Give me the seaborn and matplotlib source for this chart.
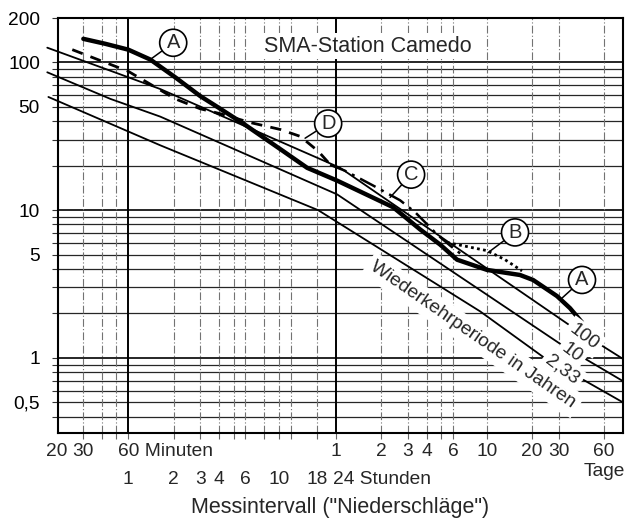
import numpy as np
import pandas as pd
import matplotlib
matplotlib.use("Agg")
import matplotlib.pyplot as plt
import seaborn as sns

# ---------------- data (x: minutes, y: intensity) ----------------
# Curve A (thick solid)
a_x = [30.2, 42.2, 60, 84, 123, 180, 233.7, 347.8, 640.9, 924.6, 1462, 3441,
       5196, 7056, 9150, 14468, 23951, 29216, 42150, 51420, 61765]
a_y = [144.5, 133.8, 122.1, 104.7, 79.4, 59.3, 50.1, 38.6, 25.1, 19.35, 15.85,
       10.47, 7.41, 5.85, 4.62, 3.94, 3.64, 3.37, 2.62, 2.17, 1.74]
# Curve B (dotted)
b_x = [7852, 14468, 19050, 24697]
b_y = [6.04, 5.32, 4.62, 3.88]
# Curve C (dash-dot)
c_x = [1314, 1652, 2078, 2535, 3829, 4816, 6739, 8221, 10027]
c_y = [20.26, 18.48, 16.34, 14.68, 11.66, 9.69, 6.85, 5.76, 4.92]
# Curve D (dashed)
d_x = [25.5, 39.1, 60, 90.7, 123, 180, 244.6, 387, 612, 831, 1094, 1376]
d_y = [122.1, 103.1, 87.1, 68.1, 56.7, 48.6, 45.0, 39.2, 35.2, 31.6, 25.1, 19.35]
# Return-period lines (Wiederkehrperiode in Jahren)
r100_x = [17.4, 60, 97.8, 1531, 13610, 51420, 115580]
r100_y = [125.9, 79.4, 66.1, 19.35, 4.20, 1.656, 0.984]
r10_x = [17.4, 45.6, 97.8, 1462, 13000, 46206, 115580]
r10_y = [85.8, 56.7, 43.0, 12.79, 2.876, 1.208, 0.696]
r233_x = [17.7, 97.8, 1094, 13000, 34046, 115580]
r233_y = [58.4, 27.5, 10.0, 2.066, 1.016, 0.4996]

y_grid = [0.4, 0.5, 0.6, 0.7, 0.8, 0.9, 1, 2, 3, 4, 5, 6, 7, 8, 9,
          10, 20, 30, 40, 50, 60, 70, 80, 90, 100]
y_labels = {200: "200", 100: "100", 50: "50", 10: "10", 5: "5", 1: "1", 0.5: "0,5"}
x_major = [60, 1440]
x_minor = [30, 40, 50, 120, 180, 240, 300, 360, 480, 600, 720, 1080,
           2880, 4320, 5760, 7200, 8640, 14400, 28800, 43200, 86400]
row1 = [("20", 20), ("30", 30), ("1", 1440), ("2", 2880), ("3", 4320),
        ("4", 5760), ("6", 8640), ("10", 14400), ("20", 28800), ("30", 43200),
        ("60", 86400)]
row2 = [("1", 60), ("2", 120), ("3", 180), ("4", 240), ("6", 360),
        ("10", 600), ("18", 1080)]

# ---------------- style ----------------
sns.set_style("white")
plt.rcParams["font.family"] = ["Liberation Sans", "DejaVu Sans"]

W, H = 631, 518
fig = plt.figure(figsize=(W / 100, H / 100), dpi=100)
L, R, T, B = 58, 623, 18, 433
ax = fig.add_axes([L / W, 1 - B / H, (R - L) / W, (B - T) / H])
ax.set_xscale("log")
ax.set_yscale("log")
ax.set_xlim(20.5, 115600)
ax.set_ylim(0.31, 200)

# grid lines
for v in y_grid:
    lw = 1.4 if v in (1, 10, 100) else 0.9
    ax.axhline(v, color="0.15", lw=lw, zorder=1)
for v in x_minor:
    ax.axvline(v, color="0.45", lw=0.8, ls=(0, (7, 2, 1, 2)), zorder=1)
for v in x_major:
    ax.axvline(v, color="black", lw=1.4, zorder=1)

# return-period lines
for xs, ys in [(r100_x, r100_y), (r10_x, r10_y), (r233_x, r233_y)]:
    sns.lineplot(x=xs, y=ys, ax=ax, color="black", lw=1.3, sort=False,
                 estimator=None, clip_on=False, zorder=3)

# measured curves
sns.lineplot(x=d_x, y=d_y, ax=ax, color="black", lw=2.0, sort=False,
             estimator=None, ls=(0, (4, 3)), zorder=4)
sns.lineplot(x=c_x, y=c_y, ax=ax, color="black", lw=1.8, sort=False,
             estimator=None, ls=(0, (7, 2.5, 1.2, 2.5)), zorder=4)
sns.lineplot(x=b_x, y=b_y, ax=ax, color="black", lw=2.0, sort=False,
             estimator=None, ls=(0, (1, 1.2)), zorder=4)
sns.lineplot(x=a_x, y=a_y, ax=ax, color="black", lw=3.2, sort=False,
             estimator=None, zorder=5)

# ticks
ax.set_yticks(y_grid + [200])
ax.set_yticklabels([y_labels.get(v, "") for v in y_grid + [200]], fontsize=13.8)
ax.set_xticks(x_minor + x_major)
ax.set_xticklabels([])
ax.minorticks_off()
ax.tick_params(axis="y", direction="out", length=4.5, width=0.8, pad=8.5,
               colors="0.2", labelcolor="black", left=True)
ax.tick_params(axis="x", direction="out", length=4, width=0.8,
               colors="0.4", bottom=True)
for s in ax.spines.values():
    s.set_visible(True)
    s.set_color("black")
    s.set_linewidth(1.5)

# x tick label rows
xt = ax.get_xaxis_transform()
y1 = (B - 451) / (B - T)
y2 = (B - 479) / (B - T)
for txt, x in row1:
    ax.text(x, y1, txt, transform=xt, ha="center", va="center", fontsize=13.8)
ax.text(51.5, y1, "60 Minuten", transform=xt, ha="left", va="center",
        fontsize=13.8)
for txt, x in row2:
    ax.text(x, y2, txt, transform=xt, ha="center", va="center", fontsize=13.8)
ax.text(1376, y2, "24 Stunden", transform=xt, ha="left", va="center",
        fontsize=13.8)
ax.text(86400, (B - 472) / (B - T), "Tage", transform=xt, ha="center",
        va="center", fontsize=13.8)
ax.text(0.499, (B - 507) / (B - T), 'Messintervall ("Niederschläge")',
        transform=ax.transAxes, ha="center", va="center", fontsize=15.5)

# texts inside
wbox = dict(boxstyle="square,pad=0.12", fc="white", ec="none")
ax.text((368 - L) / (R - L), (B - 46) / (B - T), "SMA-Station Camedo",
        transform=ax.transAxes, ha="center", va="center", fontsize=15.5,
        bbox=wbox, zorder=6)
ax.text((473 - L) / (R - L), (B - 335) / (B - T), "Wiederkehrperiode in Jahren",
        transform=ax.transAxes, ha="center", va="center", fontsize=13.8,
        rotation=-34.6, rotation_mode="anchor",
        bbox=dict(boxstyle="square,pad=0.25", fc="white", ec="none"), zorder=6)
for txt, px, py in [("100", 584, 337), ("10", 572, 353), ("2,33", 562, 370)]:
    ax.text((px - L) / (R - L), (B - py) / (B - T), txt,
            transform=ax.transAxes, ha="center", va="center", fontsize=13.8,
            rotation=-37, rotation_mode="anchor",
            bbox=dict(boxstyle="square,pad=0.2", fc="white", ec="none"),
            zorder=6)

# circled letters with leader lines
circ = dict(boxstyle="circle,pad=0.2", fc="white", ec="black", lw=1.2)
for letter, (tx, ty), (px, py) in [
        ("A", (119.3, 135.9), (84, 104.7)),
        ("D", (1274.6, 38.6), (896, 30.7)),
        ("C", (4530, 17.4), (3286, 12.2)),
        ("B", (22190, 7.07), (14694, 5.16)),
        ("A", (61765, 3.37), (45510, 2.54))]:
    ax.annotate(letter, xy=(px, py), xytext=(tx, ty), ha="center",
                va="center", fontsize=14.5, bbox=circ, zorder=7,
                arrowprops=dict(arrowstyle="-", color="black", lw=1.1,
                                shrinkA=0, shrinkB=0))

fig.savefig("out.png", dpi=100)
